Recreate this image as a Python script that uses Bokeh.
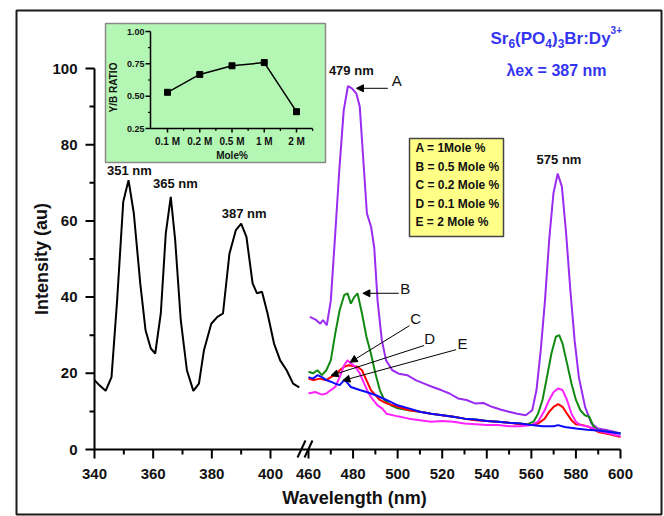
from bokeh.plotting import figure
from bokeh.models import Range1d, Label, Arrow, NormalHead
from bokeh.core.properties import value
from bokeh.embed import file_html
from bokeh.resources import INLINE

# ---------------- data ----------------
exc_wl = [340, 341.5, 343.8, 345.8, 347.7, 349.8, 351.6, 353.4, 355.6, 357.4, 359.2, 360.7,
          362.6, 364.3, 366.0, 367.5, 369.4, 371.5, 373.7, 375.6, 377.3, 379.8, 381.9, 383.8,
          386.0, 388.2, 390.0, 391.8, 393.9, 395.4, 397.1, 399.0, 401.2, 403.3, 405.5, 407.7, 409.8]
exc_int = [18.2, 17.0, 15.4, 19.0, 39.0, 65.0, 70.7, 62.0, 43.6, 31.3, 26.5, 25.2,
           35.7, 56.7, 66.3, 55.0, 34.0, 20.8, 15.4, 17.3, 26.0, 33.0, 34.8, 35.7,
           51.4, 57.6, 59.3, 55.8, 43.6, 41.0, 41.4, 35.7, 27.8, 23.4, 20.8, 17.3, 16.3]

A_wl = [460.6, 463.4, 465.3, 466.5, 468.2, 470.0, 472.0, 473.9, 475.8, 477.7, 479.6, 481.5, 483.0,
        484.3, 486.2, 488.1, 489.5, 491.0, 492.9, 494.8, 497.6, 500.5, 504.3, 508.1, 511.9, 515.7,
        519.5, 523.3, 527.1, 530.9, 534.7, 538.5, 542.3, 546.1, 549.9, 553.7, 557.5, 560.4, 562.3,
        564.2, 566.1, 568.0, 569.9, 571.8, 573.7, 575.6, 577.5, 579.4, 581.3, 584.1, 587.0, 589.8,
        593.7, 597.5, 600.0]
A_int = [34.8, 34.0, 33.0, 34.0, 32.6, 39.0, 56.7, 74.0, 89.0, 95.4, 94.7, 93.4, 90.0,
         78.6, 62.0, 58.4, 53.0, 39.0, 28.7, 23.4, 20.8, 19.9, 19.5, 18.2, 17.3, 16.4,
         15.6, 14.7, 13.4, 13.0, 12.1, 12.2, 11.2, 10.5, 9.9, 9.4, 9.0, 10.3, 15.6,
         26.0, 39.0, 55.0, 67.2, 72.4, 69.0, 56.7, 41.8, 28.7, 19.0, 11.2, 6.8, 5.5,
         5.1, 4.6, 4.2]

B_wl = [460, 462, 464, 466, 468, 470, 472, 474, 476, 477.5, 479, 480.5, 482, 484, 486, 488, 490,
        492, 494, 497, 500, 505, 510, 515, 520, 525, 530, 535, 540, 545, 550, 555, 558, 561, 563,
        565, 567, 569, 571, 572.5, 574, 576, 578, 580, 582, 584, 586, 588, 590, 595, 600]
B_int = [20.4, 20.0, 20.8, 19.5, 20.8, 23.4, 30.4, 36.6, 40.5, 41.0, 38.3, 40.0, 41.0, 35.7, 29.6,
         25.2, 20.0, 15.6, 13.0, 11.6, 10.8, 10.3, 9.9, 9.4, 9.0, 8.6, 8.1, 7.9, 7.5, 7.3, 7.0,
         6.8, 6.6, 7.3, 9.4, 13.0, 19.0, 25.2, 29.6, 30.0, 27.8, 22.6, 17.3, 13.0, 10.3, 9.0, 8.6,
         5.9, 5.0, 4.6, 4.2]

C_wl = [460, 463, 466, 468, 470, 472, 474, 476, 477.5, 479, 481, 483, 485, 487, 489, 491, 493, 495,
        500, 505, 510, 515, 520, 525, 530, 535, 540, 545, 550, 555, 560, 563, 566, 568, 570, 572,
        574, 576, 578, 580, 582, 585, 588, 590, 595, 600]
C_int = [14.7, 15.1, 14.4, 14.7, 15.6, 16.4, 19.0, 22.1, 23.4, 22.6, 21.7, 20.0, 17.3, 14.7, 13.0,
         11.6, 10.8, 9.4, 8.7, 8.1, 7.7, 7.3, 7.5, 7.3, 6.8, 6.6, 6.4, 6.4, 6.1, 6.1, 6.4, 7.3,
         10.3, 13.0, 15.1, 16.0, 15.6, 13.0, 9.4, 7.3, 6.4, 6.1, 5.5, 4.9, 4.2, 3.5]

D_wl = [460, 462, 465, 468, 470, 472, 474, 476, 478, 480, 482, 484, 486, 488, 490, 492, 495, 500,
        505, 510, 515, 520, 525, 530, 535, 540, 545, 550, 555, 560, 563, 566, 568, 570, 572, 574,
        576, 578, 580, 583, 586, 590, 595, 600]
D_int = [18.6, 18.2, 18.6, 18.2, 19.0, 19.5, 20.8, 21.7, 22.1, 21.9, 21.7, 20.8, 18.2, 15.6, 14.3,
         13.0, 12.1, 11.2, 10.3, 9.9, 9.4, 9.0, 8.6, 8.1, 7.7, 7.5, 7.3, 7.0, 6.6, 6.4, 6.8, 8.1,
         9.9, 11.2, 11.9, 11.2, 9.4, 7.7, 6.6, 6.4, 5.9, 4.6, 4.0, 3.3]

E_wl = [460, 462, 464, 466, 468, 470, 472, 474, 476, 477, 479, 481, 483, 486, 490, 495, 500, 505,
        510, 515, 520, 525, 530, 535, 540, 545, 550, 555, 560, 565, 570, 572, 575, 580, 585, 590,
        595, 600]
E_int = [19.0, 18.6, 19.5, 19.0, 18.2, 17.8, 17.3, 16.9, 18.2, 17.8, 16.4, 16.0, 15.6, 15.1, 14.3,
         13.0, 11.6, 10.8, 9.9, 9.4, 9.0, 8.6, 8.1, 7.9, 7.5, 7.3, 7.0, 6.8, 6.4, 6.1, 6.1, 6.4,
         5.9, 5.5, 5.2, 5.0, 4.6, 4.2]

ratio_cats = ["0.1 M", "0.2 M", "0.5 M", "1 M", "2 M"]
ratio_vals = [0.53, 0.668, 0.735, 0.76, 0.38]

left_ticks = [340, 360, 380, 400]
left_minor = [350, 370, 390]
right_ticks = [460, 480, 500, 520, 540, 560, 580, 600]
right_minor = [470, 490, 510, 530, 550, 570, 590]
y_ticks = [0, 20, 40, 60, 80, 100]
y_minor = [10, 30, 50, 70, 90]
inset_y_ticks = [0.25, 0.50, 0.75, 1.00]

# ---------------- geometry (page pixels) ----------------
W, H = 664, 516
FL, FR, FB, FY100 = 94, 620, 449, 68   # axis positions
R0PX = 308                              # pixel of 460 nm
SR = (FR - R0PX) / 140.0                # px per nm, right part
SL = (270 - FL) / 60.0                  # px per nm, left part
SY = (FB - FY100) / 100.0               # px per intensity unit
IX0, IXS = 167, 32.25                   # inset: px of first category, px per category
IY0, IYS = 128, 129.3                   # inset: px of 0.25, px per unit

def rx(px):      # page px -> right-part wavelength coordinate
    return 460 + (px - R0PX) / SR

def vy(py):      # page px -> intensity coordinate
    return (FB - py) / SY

def ipx(px):
    return (px - IX0) / IXS

def ipy(py):
    return 0.25 + (IY0 - py) / IYS

p = figure(width=W, height=H, output_backend="svg", toolbar_location=None, title=None,
           x_axis_location=None, y_axis_location=None,
           x_range=Range1d(rx(0), rx(W)), y_range=Range1d(vy(H), vy(0)),
           min_border=0)
p.extra_x_ranges = {"left": Range1d(340 + (0 - FL) / SL, 340 + (W - FL) / SL),
                    "ix": Range1d(ipx(0), ipx(W))}
p.extra_y_ranges = {"iy": Range1d(ipy(H), ipy(0))}
p.xgrid.visible = False
p.ygrid.visible = False
p.outline_line_color = None
p.background_fill_color = "white"
p.border_fill_color = "white"

FONT = "Liberation Sans"
TXT = "#111111"
LW = 2

# outer picture frame
p.quad(left=rx(16), right=rx(661), bottom=vy(514), top=vy(10), fill_color=None,
       line_color="#1a1a1a", line_width=2)

# ---------------- axes ----------------
# y axis
p.segment(x0=[rx(FL)], y0=[0], x1=[rx(FL)], y1=[100], line_color="black", line_width=LW)
p.segment(x0=[rx(FL)] * len(y_ticks), y0=y_ticks, x1=[rx(FL - 9)] * len(y_ticks), y1=y_ticks,
          line_color="black", line_width=LW)
p.segment(x0=[rx(FL)] * len(y_minor), y0=y_minor, x1=[rx(FL - 5)] * len(y_minor), y1=y_minor,
          line_color="black", line_width=LW)
p.text(x=[rx(77)] * len(y_ticks), y=y_ticks, text=[str(t) for t in y_ticks],
       text_align="right", text_baseline="middle", text_font=value(FONT),
       text_font_style="bold", text_font_size="15px", text_color=TXT)
p.text(x=[rx(41)], y=[50], text=["Intensity (au)"], angle=1.5708, text_align="center",
       text_baseline="middle", text_font=value(FONT), text_font_style="bold",
       text_font_size="18px", text_color=TXT)

# x axis (broken)
p.segment(x0=[rx(FL)], y0=[0], x1=[rx(FR)], y1=[0], line_color="black", line_width=LW)
L = dict(x_range_name="left")
p.segment(x0=left_ticks, y0=[0] * 4, x1=left_ticks, y1=[vy(FB + 9)] * 4,
          line_color="black", line_width=LW, **L)
p.segment(x0=left_minor, y0=[0] * 3, x1=left_minor, y1=[vy(FB + 5)] * 3,
          line_color="black", line_width=LW, **L)
p.segment(x0=right_ticks, y0=[0] * len(right_ticks), x1=right_ticks,
          y1=[vy(FB + 9)] * len(right_ticks), line_color="black", line_width=LW)
p.segment(x0=right_minor, y0=[0] * len(right_minor), x1=right_minor,
          y1=[vy(FB + 5)] * len(right_minor), line_color="black", line_width=LW)
p.text(x=left_ticks, y=[vy(473)] * 4, text=[str(t) for t in left_ticks], text_align="center",
       text_baseline="middle", text_font=value(FONT), text_font_style="bold",
       text_font_size="15px", text_color=TXT, **L)
p.text(x=right_ticks, y=[vy(473)] * len(right_ticks), text=[str(t) for t in right_ticks],
       text_align="center", text_baseline="middle", text_font=value(FONT),
       text_font_style="bold", text_font_size="15px", text_color=TXT)
p.text(x=[rx(354)], y=[vy(497)], text=["Wavelength (nm)"], text_align="center",
       text_baseline="middle", text_font=value(FONT), text_font_style="bold",
       text_font_size="18px", text_color=TXT)
# break marks
p.segment(x0=[rx(297), rx(304)], y0=[vy(457)] * 2, x1=[rx(305), rx(312)], y1=[vy(440)] * 2,
          line_color="black", line_width=2)

# ---------------- inset ----------------
IX = dict(x_range_name="ix", y_range_name="iy")
p.quad(left=ipx(105), right=ipx(325), bottom=ipy(162), top=ipy(23),
       fill_color="#b4f6b4", line_color="#8a8a8a", line_width=1.5, **IX)
ax_x = ipx(150)
p.segment(x0=[ax_x, ax_x], y0=[0.25, 0.25], x1=[ax_x, ipx(312)], y1=[1.0, 0.25],
          line_color="black", line_width=1.5, **IX)
idx = list(range(len(ratio_cats)))
p.segment(x0=idx, y0=[0.25] * len(idx), x1=idx, y1=[ipy(IY0 + 4)] * len(idx),
          line_color="black", line_width=1.5, **IX)
mid = [i + 0.5 for i in idx]
p.segment(x0=mid, y0=[0.25] * len(mid), x1=mid, y1=[ipy(IY0 + 2.5)] * len(mid),
          line_color="black", line_width=1.2, **IX)
p.segment(x0=[ax_x] * len(inset_y_ticks), y0=inset_y_ticks,
          x1=[ipx(145)] * len(inset_y_ticks), y1=inset_y_ticks,
          line_color="black", line_width=1.5, **IX)
ymid = [0.375, 0.625, 0.875]
p.segment(x0=[ax_x] * 3, y0=ymid, x1=[ipx(147.5)] * 3, y1=ymid,
          line_color="black", line_width=1.2, **IX)
p.text(x=[ipx(144)] * len(inset_y_ticks), y=inset_y_ticks,
       text=["%.2f" % v for v in inset_y_ticks], text_align="right", text_baseline="middle",
       text_font=value(FONT), text_font_style="bold", text_font_size="9px",
       text_color=TXT, **IX)
p.text(x=idx, y=[ipy(141)] * len(idx), text=ratio_cats, text_align="center",
       text_baseline="middle", text_font=value(FONT), text_font_style="bold",
       text_font_size="10px", text_color=TXT, **IX)
p.text(x=[2.0], y=[ipy(155)], text=["Mole%"], text_align="center", text_baseline="middle",
       text_font=value(FONT), text_font_style="bold", text_font_size="10px",
       text_color=TXT, **IX)
p.text(x=[ipx(113)], y=[ipy(87)], text=["Y/B RATIO"], angle=1.5708, text_align="center",
       text_baseline="middle", text_font=value(FONT), text_font_style="bold",
       text_font_size="10px", text_color=TXT, **IX)
p.line(idx, ratio_vals, line_color="black", line_width=1.5, **IX)
p.scatter(idx, ratio_vals, marker="square", size=6, fill_color="black", line_color="black", **IX)

# ---------------- spectra ----------------
p.line(exc_wl, exc_int, line_color="black", line_width=2, **L)
p.line(A_wl, A_int, line_color="#9a2bf0", line_width=2)
p.line(B_wl, B_int, line_color="#118a11", line_width=2)
p.line(D_wl, D_int, line_color="#ff0000", line_width=2)
p.line(C_wl, C_int, line_color="#ff22ff", line_width=2)
p.line(E_wl, E_int, line_color="#0a0aff", line_width=2)

# ---------------- legend box ----------------
leg_text = ["A = 1Mole %", "B = 0.5 Mole %", "C = 0.2 Mole %", "D = 0.1 Mole %", "E = 2 Mole %"]
p.quad(left=rx(409), right=rx(503), top=vy(138), bottom=vy(236),
       fill_color="#ffff88", line_color="#444444", line_width=1.5)
p.text(x=[rx(415)] * 5, y=[vy(147.7 + 18.5 * i) for i in range(5)], text=leg_text,
       text_align="left", text_baseline="middle", text_font=value(FONT),
       text_font_style="bold", text_font_size="12px", text_color=TXT)

# ---------------- peak labels ----------------
def lab(x, y, t, size="13px", bold=True, rng="default"):
    kw = {}
    if rng != "default":
        kw["x_range_name"] = rng
    p.add_layout(Label(x=x, y=y, text=t, text_font=FONT,
                       text_font_style="bold" if bold else "normal",
                       text_font_size=size, text_align="center", text_baseline="middle",
                       text_color=TXT, **kw))

lab(351.9, 73.2, "351 nm", rng="left")
lab(367.6, 69.9, "365 nm", rng="left")
lab(391.0, 62.0, "387 nm", rng="left")
lab(479.2, 99.5, "479 nm")
lab(572.4, 76.1, "575 nm")
for (x, y, t) in [(499.6, 96.9, "A"), (503.4, 42.2, "B"), (508.1, 34.4, "C"),
                  (514.4, 29.1, "D"), (529.1, 27.8, "E")]:
    lab(x, y, t, size="15px", bold=False)

for (x0, y0, x1, y1) in [(495.6, 94.8, 481.5, 94.8), (500.5, 41.0, 484.4, 41.0),
                         (505.3, 32.5, 478.7, 22.9), (511.9, 27.3, 470.1, 19.4),
                         (526.2, 26.2, 475.4, 18.1)]:
    p.add_layout(Arrow(x_start=x0, y_start=y0, x_end=x1, y_end=y1, line_width=1,
                       line_color="black",
                       end=NormalHead(size=7, fill_color="black", line_color="black")))

# ---------------- title ----------------
BLUE = "#3535f0"
def tpiece(px, py, t, size):
    p.add_layout(Label(x=rx(px), y=vy(py), text=t, text_font=FONT, text_font_style="bold",
                       text_font_size=size, text_align="left", text_baseline="alphabetic",
                       text_color=BLUE))
x0 = 490
pieces = [("Sr", 17.95, 0, "17px"), ("6", 6.67, 5, "12px"), ("(PO", 30.2, 0, "17px"),
          ("4", 6.67, 5, "12px"), (")", 5.66, 0, "17px"), ("3", 6.67, 5, "12px"),
          ("Br:Dy", 46.3, 0, "17px"), ("3+", 11.4, -9, "10px")]
cx = x0
for t, w, dy, s in pieces:
    tpiece(cx, 38 + dy, t, s)
    cx += w
p.add_layout(Label(x=rx(556), y=vy(70), text="\u03bbex = 387 nm", text_font=FONT,
                   text_font_style="bold", text_font_size="16px", text_align="center",
                   text_baseline="alphabetic", text_color=BLUE))

open("out.html", "w").write(file_html(p, INLINE))
